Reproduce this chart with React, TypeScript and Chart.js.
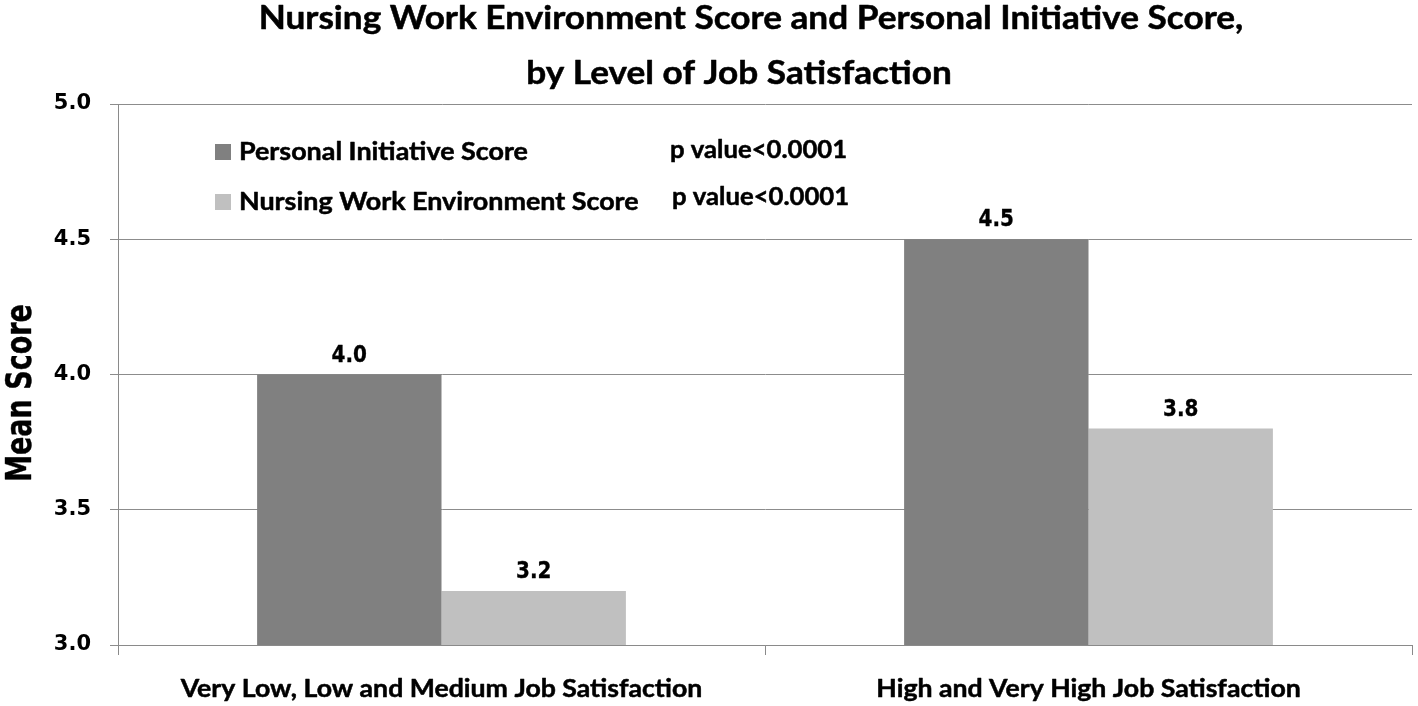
import React, { useEffect, useRef } from "react";
import { Chart, registerables } from "chart.js";

Chart.register(...registerables);

const categories = [
  "Very Low, Low and Medium Job Satisfaction",
  "High and Very High Job Satisfaction",
];
const seriesNames = ["Personal Initiative Score", "Nursing Work Environment Score"];
const personalInitiative = [4.0, 4.5];
const nursingWorkEnvironment = [3.2, 3.8];
const pValues = ["p value<0.0001", "p value<0.0001"];
const titleLines = [
  "Nursing Work Environment Score and Personal Initiative Score,",
  "by Level of Job Satisfaction",
];
const yAxisTitle = "Mean Score";
const yMin = 3.0;
const yMax = 5.0;
const yStep = 0.5;
const seriesColors = ["#808080", "#c0c0c0"];

const CAL = "Lato, 'Open Sans', sans-serif";
const VER = "'DejaVu Sans', Verdana, sans-serif";

function drawText(
  ctx: CanvasRenderingContext2D,
  text: string,
  x: number,
  y: number,
  font: string,
  sx: number,
  sy: number,
  align: CanvasTextAlign,
  rotate = 0,
  stroke = 0.5
) {
  ctx.save();
  ctx.translate(x, y);
  if (rotate) ctx.rotate(rotate);
  ctx.scale(sx, sy);
  ctx.font = font;
  ctx.textAlign = align;
  ctx.textBaseline = "alphabetic";
  ctx.fillStyle = "#000";
  ctx.fillText(text, 0, 0);
  if (stroke > 0) {
    ctx.strokeStyle = "#000";
    ctx.lineWidth = stroke;
    ctx.lineJoin = "round";
    ctx.strokeText(text, 0, 0);
  }
  ctx.restore();
}

const overlayPlugin = {
  id: "overlay",
  afterDatasetsDraw(chart: any) {
    const ctx = chart.ctx as CanvasRenderingContext2D;
    ctx.save();
    // data labels
    chart.data.datasets.forEach((ds: any, di: number) => {
      const meta = chart.getDatasetMeta(di);
      meta.data.forEach((bar: any, i: number) => {
        drawText(ctx, Number(ds.data[i]).toFixed(1), bar.x, bar.y - 13, `bold 20px ${VER}`, 1, 1.15, "center", 0, 0.3);
      });
    });
    // category labels
    const xs = chart.scales.x;
    categories.forEach((c, i) => {
      drawText(ctx, c, xs.getPixelForValue(i), 697, `bold 24px ${CAL}`, 1.11, 1, "center");
    });
    // y axis title
    const ys = chart.scales.y;
    drawText(ctx, yAxisTitle, 31, 393, `bold 27px ${VER}`, 1, 1.3, "center", -Math.PI / 2, 0.3);
    // title
    drawText(ctx, titleLines[0], 751, 29, `bold 32px ${CAL}`, 1.1, 1, "center");
    drawText(ctx, titleLines[1], 739, 84, `bold 32px ${CAL}`, 1.1, 1, "center");
    // legend
    const rows = [160, 210];
    const pRows = [158, 205];
    seriesNames.forEach((name, i) => {
      ctx.fillStyle = seriesColors[i];
      ctx.fillRect(215, rows[i] - 16, 16, 16);
      drawText(ctx, name, 239, rows[i], `bold 24px ${CAL}`, 1.12, 1, "left");
      drawText(ctx, pValues[i], 670 + i * 2, pRows[i], `bold 24px ${CAL}`, 1.07, 1, "left");
    });
    ctx.restore();
    void ys;
  },
};

export default function App() {
  const ref = useRef<HTMLCanvasElement | null>(null);
  useEffect(() => {
    if (!ref.current) return;
    const chart = new Chart(ref.current, {
      type: "bar",
      data: {
        labels: categories,
        datasets: [
          {
            label: seriesNames[0],
            data: personalInitiative,
            backgroundColor: seriesColors[0],
            barPercentage: 1,
            categoryPercentage: 0.57,
          },
          {
            label: seriesNames[1],
            data: nursingWorkEnvironment,
            backgroundColor: seriesColors[1],
            barPercentage: 1,
            categoryPercentage: 0.57,
          },
        ],
      },
      options: {
        responsive: false,
        animation: false,
        layout: { padding: { top: 104, right: 6, left: 0, bottom: 0 } },
        plugins: {
          legend: { display: false },
          title: { display: false },
          tooltip: { enabled: false },
        },
        scales: {
          x: {
            offset: true,
            grid: {
              offset: true,
              drawOnChartArea: false,
              drawTicks: true,
              tickLength: 10,
              color: "#8a8a8a",
            },
            border: { color: "#8a8a8a" },
            ticks: { display: false },
            afterFit: (s: any) => {
              s.height = 61;
            },
          },
          y: {
            min: yMin,
            max: yMax,
            ticks: {
              stepSize: yStep,
              color: "#000",
              padding: 19,
              font: { family: VER, weight: "bold", size: 21 },
              callback: (v: any) => Number(v).toFixed(1),
            },
            grid: { color: "#8c8c8c", tickLength: 8 },
            border: { color: "#8a8a8a" },
            title: { display: false },
            afterFit: (s: any) => {
              s.width = 118;
            },
          },
        },
      },
      plugins: [overlayPlugin],
    } as any);
    return () => chart.destroy();
  }, []);
  return (
    <div style={{ position: "absolute", left: 0, top: 0, width: 1418, height: 706, background: "#fff" }}>
      <canvas ref={ref} width={1418} height={706} style={{ display: "block" }} />
    </div>
  );
}
